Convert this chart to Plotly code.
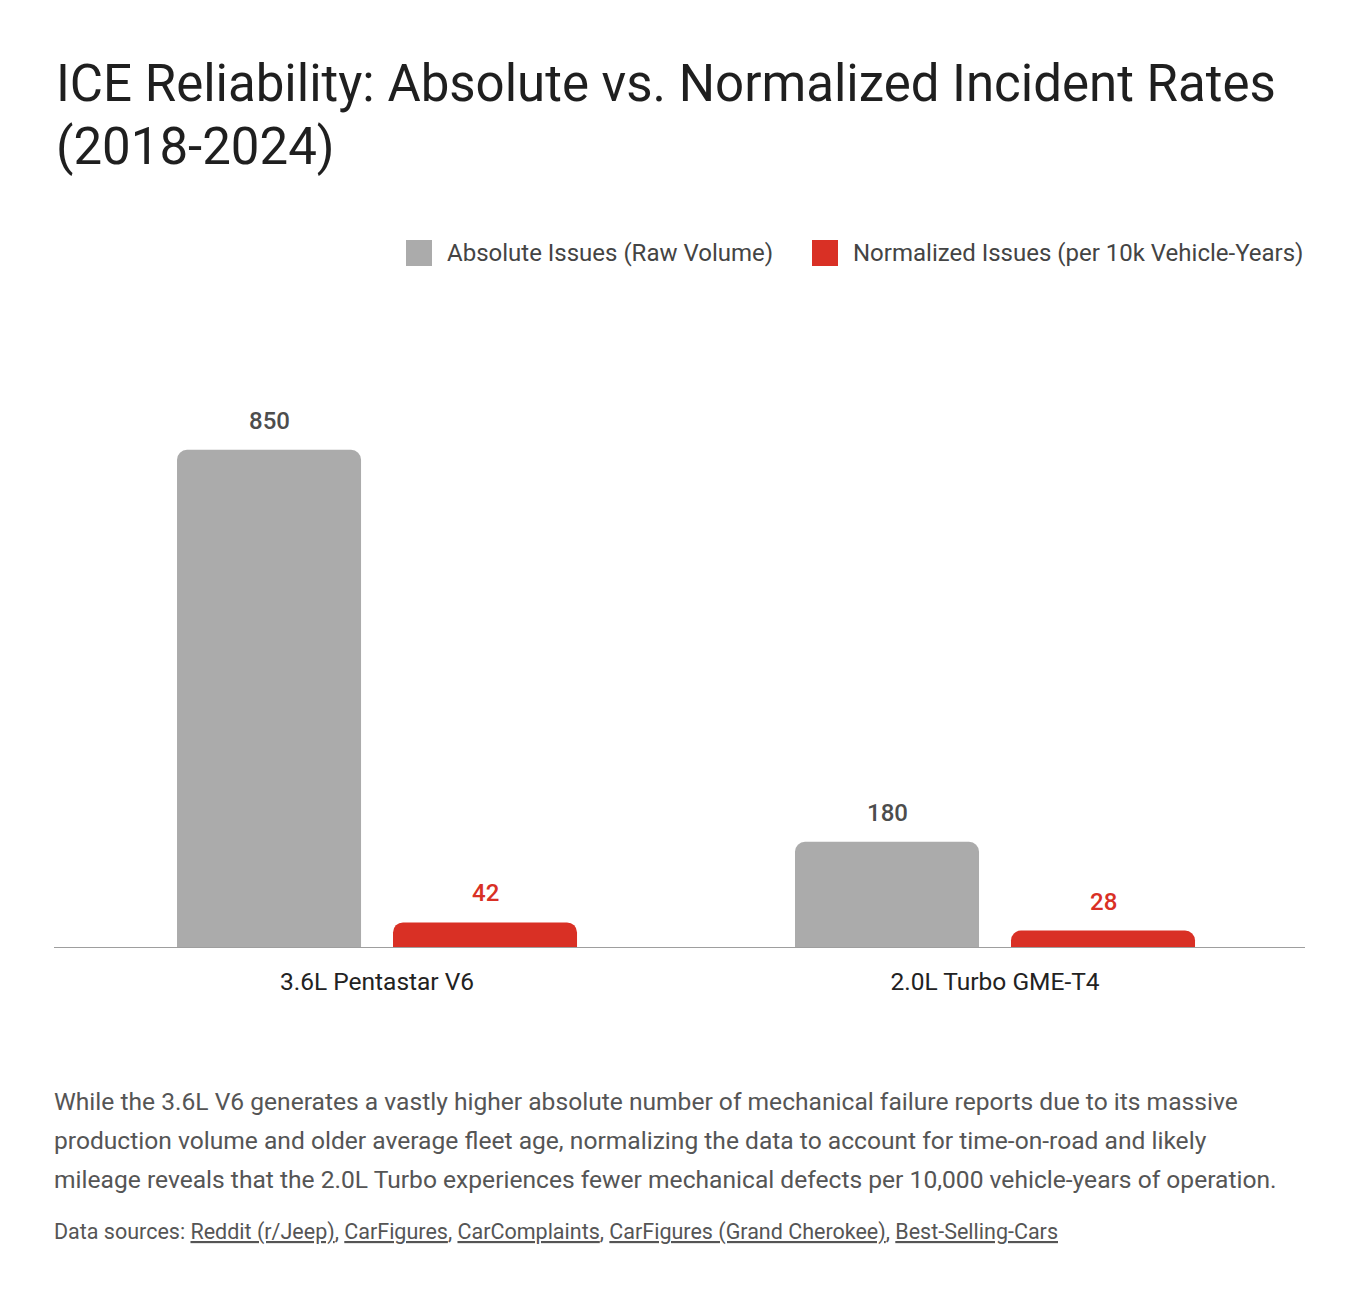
import plotly.graph_objects as go

# ---------------- data ----------------
engines = ["3.6L Pentastar V6", "2.0L Turbo GME-T4"]
absolute_issues = [850, 180]
normalized_issues = [42, 28]
series_names = ["Absolute Issues (Raw Volume)", "Normalized Issues (per 10k Vehicle-Years)"]
series_colors = ["#ababab", "#d93025"]
value_label_colors = ["#4d4d4d", "#d93025"]
title_lines = ["ICE Reliability: Absolute vs. Normalized Incident Rates", "(2018-2024)"]
summary_lines = [
    "While the 3.6L V6 generates a vastly higher absolute number of mechanical failure reports due to its massive",
    "production volume and older average fleet age, normalizing the data to account for time-on-road and likely",
    "mileage reveals that the 2.0L Turbo experiences fewer mechanical defects per 10,000 vehicle-years of operation.",
]
sources = ["Reddit (r/Jeep)", "CarFigures", "CarComplaints", "CarFigures (Grand Cherokee)", "Best-Selling-Cars"]

# ---------------- layout geometry (pixels) ----------------
W, H = 1359, 1300
PL, PR, PT, PB = 54, 1305, 362, 947
FONT = "Roboto, 'Open Sans', sans-serif"


def px_x(x):
    return (x - PL) / (PR - PL)


def px_y(y):
    return (PB - y) / (PB - PT)


fig = go.Figure()
series_values = [absolute_issues, normalized_issues]
for name, vals, col in zip(series_names, series_values, series_colors):
    fig.add_trace(go.Bar(
        x=engines, y=vals, name=name,
        marker=dict(color=col, line=dict(width=0), cornerradius=10),
        showlegend=False, hoverinfo="x+y+name",
    ))

annotations = []
shift = 108
for si, (vals, lc) in enumerate(zip(series_values, value_label_colors)):
    for eng, v in zip(engines, vals):
        annotations.append(dict(
            x=eng, y=v, xref="x", yref="y", text=f"{v}", showarrow=False,
            xshift=(-shift if si == 0 else shift), yshift=29, yanchor="middle",
            font=dict(family=FONT, size=24, color=lc, weight=500),
        ))

# title (two lines placed separately to control line spacing)
for i, line in enumerate(title_lines):
    annotations.append(dict(
        x=0, y=px_y(84 + 62 * i), xref="paper", yref="paper", xanchor="left", yanchor="middle",
        text=line, showarrow=False, align="left",
        font=dict(family=FONT, size=51, color="#1f1f1f"),
    ))

# manual legend
legend_items = [(406, 447), (812, 853)]
shapes = []
for (sx, tx), name, col in zip(legend_items, series_names, series_colors):
    shapes.append(dict(type="rect", xref="paper", yref="paper",
                       x0=px_x(sx), x1=px_x(sx + 26), y0=px_y(266), y1=px_y(240),
                       fillcolor=col, line=dict(width=0)))
    annotations.append(dict(
        x=px_x(tx - 2), y=px_y(253), xref="paper", yref="paper", xanchor="left", yanchor="middle",
        text=name, showarrow=False, font=dict(family=FONT, size=24, color="#444444"),
    ))

# summary text
for i, line in enumerate(summary_lines):
    annotations.append(dict(
        x=px_x(52), y=px_y(1101 + 39 * i), xref="paper", yref="paper", xanchor="left", yanchor="middle",
        text=line, showarrow=False, font=dict(family=FONT, size=24.6, color="#555555"),
    ))

annotations.append(dict(
    x=px_x(52), y=px_y(1232), xref="paper", yref="paper", xanchor="left", yanchor="middle",
    text="Data sources: " + ", ".join(f"<u>{s}</u>" for s in sources), showarrow=False,
    font=dict(family=FONT, size=21.5, color="#555555"),
))

fig.update_layout(
    width=W, height=H,
    margin=dict(l=PL, r=W - PR, t=PT, b=H - PB),
    paper_bgcolor="white", plot_bgcolor="white",
    barmode="group", bargap=0.301, bargroupgap=0.148,
    showlegend=False,
    annotations=annotations, shapes=shapes,
    font=dict(family=FONT),
    xaxis=dict(
        type="category", range=[-0.5227, 1.5016],
        showline=True, linecolor="#9e9e9e", linewidth=1,
        showgrid=False, zeroline=False, ticks="",
        tickfont=dict(family=FONT, size=24.5, color="#222222"),
        ticklabelstandoff=13, fixedrange=True,
    ),
    yaxis=dict(range=[0, 1000], visible=False, showgrid=False, zeroline=False, fixedrange=True),
)

fig.write_html("out.html")
